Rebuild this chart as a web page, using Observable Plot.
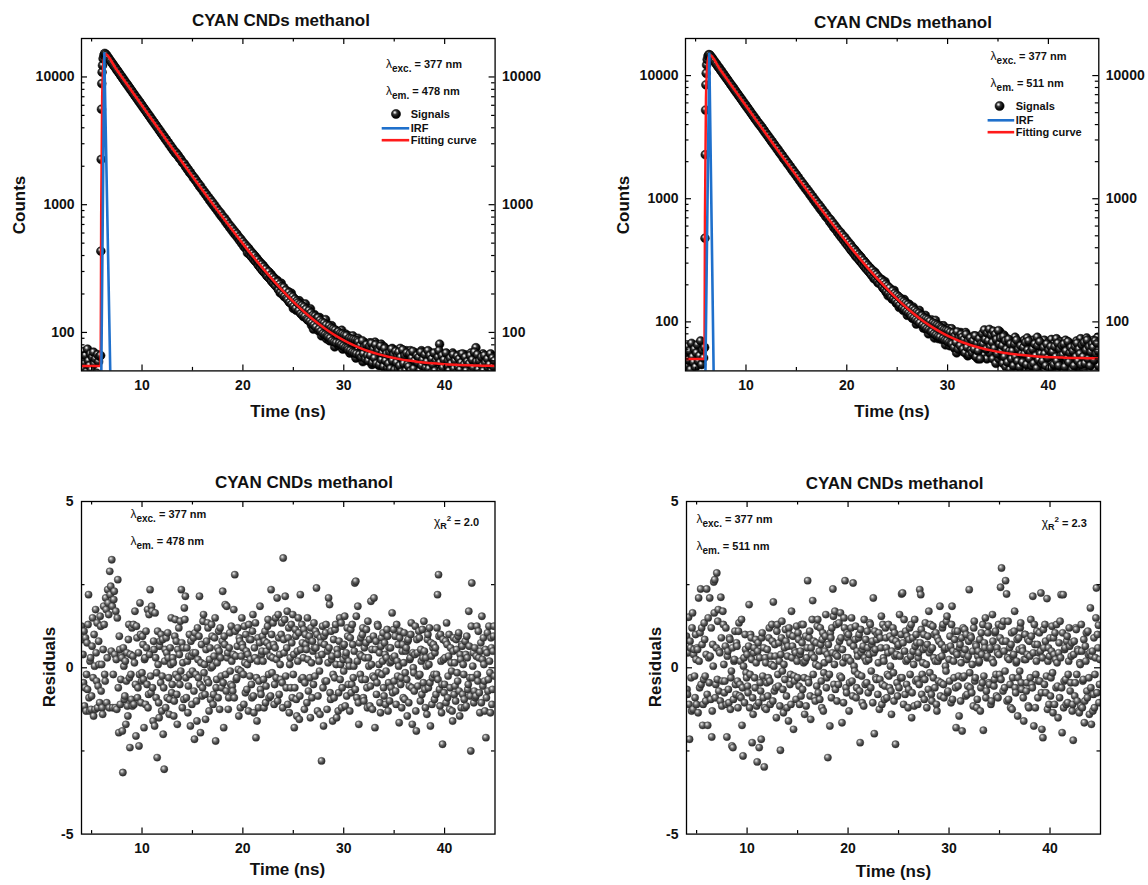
<!DOCTYPE html>
<html>
<head>
<meta charset="utf-8">
<script src="https://cdn.jsdelivr.net/npm/d3@7"></script>
<script src="https://cdn.jsdelivr.net/npm/@observablehq/plot@0.6"></script>
<style>
html,body{margin:0;padding:0;background:#fff;}
#wrap{position:relative;width:1148px;height:885px;overflow:hidden;background:#fff;}
#overlay{position:absolute;left:0;top:0;pointer-events:none;}
#overlay text{font-family:"Liberation Sans",Arial,sans-serif;fill:#111;}
.ttl{font-size:17px;font-weight:bold;text-anchor:middle;}
.ann{font-size:11px;font-weight:bold;}
</style>
</head>
<body>
<div id="wrap"></div>
<script>
// ---------------- DATA ----------------
const titleText = "CYAN CNDs methanol";
const xLabel = "Time (ns)";
const excText = "377 nm";
const emTextL = "478 nm";
const emTextR = "511 nm";
const chiTextL = "2.0";
const chiTextR = "2.3";

const channelNs = 0.1;          // spacing of the listed series (ns)
const timeDomain = [4, 45];
const xMajor = [10, 20, 30, 40];
const xMinor = [5, 15, 25, 35];
const countTicks = [100, 1000, 10000];
const countDomainL = [50, 20000];
const countDomainR = [40, 20000];
const resDomain = [-5, 5];
const resTicks = [-5, 0, 5];
const resMinor = [-2.5, 2.5];

// --- left decay (em 478 nm) ---
const baseStartL = 4.0;
const baseCountsL = [63,52,71,58,66,49,74,60,55,68,51,64,70,57,62,48,67,59,65,66];
const edgeTimesL = [5.92,5.95,5.98,6.01,6.04,6.08,6.14,6.22,6.30];
const edgeCountsL = [433,2260,5590,8870,10900,12300,13900,14800,15300];
const decayStartL = 6.4;
const decayCountsL = [
15080,14790,14300,14040,13550,13330,12890,12680,12250,12010,
11700,11330,11150,10780,10590,10200,10050,9690,9540,9190,
9050,8740,8620,8300,8180,7880,7770,7480,7380,7110,
7000,6760,6650,6410,6330,6090,6000,5780,5700,5490,
5420,5220,5150,4950,4890,4700,4640,4460,4410,4240,
4190,4030,3980,3820,3790,3630,3590,3450,3410,3270,
3240,3110,3080,2950,2930,2800,2780,2660,2640,2530,
2540,2440,2420,2310,2300,2230,2140,2120,2090,1990,
1980,1890,1880,1790,1790,1720,1690,1620,1620,1550,
1540,1470,1460,1390,1400,1330,1320,1260,1260,1200,
1200,1140,1140,1080,1090,1030,1040,980,990,935,
940,890,895,845,860,805,815,770,780,730,
745,695,705,660,675,630,645,600,615,575,
590,548,560,520,538,495,512,470,490,452,
470,430,448,408,430,390,412,372,395,358,
378,340,362,325,348,310,335,296,320,285,
305,272,295,262,285,250,272,240,262,230,
256,219,232,204,243,208,220,191,205,210,
186,209,173,190,203,167,154,183,172,149,
177,155,177,142,149,167,133,152,167,130,
126,146,127,153,114,131,106,138,119,129,
127,103,131,108,94,123,111,98,126,89,
98,114,86,104,113,88,104,77,104,89,
102,79,94,82,104,74,93,81,97,74,
79,94,69,88,79,94,68,83,63,86,
90,69,80,63,83,59,76,83,64,78,
62,76,83,62,56,79,66,84,62,70,
76,55,70,81,57,62,77,52,71,58,
62,73,53,69,75,55,49,66,72,57,
68,52,75,58,49,69,63,54,72,47,
52,64,72,49,67,57,46,69,62,53,
68,53,47,72,60,49,65,55,69,48,
62,70,50,57,65,45,62,51,67,53,
67,81,50,60,45,63,54,47,68,51,
62,46,65,52,69,48,56,44,61,64,
49,67,53,63,45,60,67,49,46,61,
64,50,69,45,57,52,63,76,43,58,
51,65,46,61,68,49,44,63,57,47,
64,52,67,48,59,45,61];
// half-channel samples of the tail (20.45 ns onward)
const tailStartL = 20.45;
const tailCountsL = [
420,455,410,430,392,414,376,398,360,380,
370,335,352,320,340,305,326,295,312,280,
275,298,265,280,252,270,242,260,232,250,
248,215,238,206,228,198,225,192,214,185,
180,205,172,195,166,190,160,182,154,176,
170,148,166,140,162,136,158,133,152,128,
125,148,122,142,118,136,114,134,110,130,
130,106,124,102,120,98,118,96,114,94,
92,112,90,108,86,106,84,104,83,100,
101,82,98,80,97,78,95,76,94,75,
73,90,72,89,70,88,69,87,68,86,
84,67,79,64,86,68,77,62,80,66,
60,78,66,82,58,74,63,80,57,73,
72,56,78,61,69,54,75,60,68,53,
57,70,52,74,60,67,51,71,58,66,
70,55,64,49,73,57,66,50,69,56,
54,68,50,63,71,52,60,47,66,58,
64,50,70,55,61,46,67,53,59,72,
52,66,48,62,56,69,50,60,45,64,
72,58,50,66,53,61,47,69,55,60,
50,63,57,45,67,52,60,48,65,54,
62,51,58,68,47,56,64,50,59,44,
57,66,49,61,53,70,46,59,67,51,
60,48,64,55,50,66,58,45,62,53,
56,68,50,63,54,60];
const fitTimesL = [4,5.9,5.95,6.05,6.2,6.35,7.4,8.4,9.4,10.4,11.4,12.4,13.4,14.4,15.4,16.4,17.4,18.4,19.4,20.4,21.4,22.4,23.4,24.4,25.4,26.4,27.4,28.4,29.4,30.4,31.4,32.4,33.4,34.4,35.4,36.4,37.4,38.4,39.4,40.4,41.4,42.4,43.4,44.4,45];
const fitCountsL = [54.5,54.5,800,7000,13500,15100,11662,9007,6960,5381,4162,3223,2498,1939,1508,1175,919,721,569,451,360,290,236,194.5,162.4,137.6,118.5,103.7,92.4,83.6,76.8,71.6,67.6,64.5,62.1,60.2,58.8,57.7,56.9,56.2,55.7,55.3,55.0,54.8,54.7];
const irfTimesL = [5.96,6.26,6.86];
const irfCountsL = [45,15300,45];

// --- right decay (em 511 nm) ---
const baseStartR = 4.0;
const baseCountsR = [55,44,63,49,58,41,67,52,47,60,43,56,65,48,53,70,45,59,51,62];
const edgeTimesR = [5.93,5.96,5.99,6.02,6.05,6.09,6.15,6.23,6.31];
const edgeCountsR = [478,2280,5250,8410,10440,12200,13500,14400,14800];
const decayStartR = 6.4;
const decayCountsR = [
14750,14420,13990,13700,13240,12990,12560,12320,11900,11680,
11380,11010,10800,10440,10240,9900,9720,9390,9210,8910,
8740,8430,8290,8010,7860,7580,7460,7190,7080,6820,
6720,6470,6370,6130,6040,5810,5730,5510,5440,5230,
5160,4960,4890,4700,4640,4450,4400,4230,4170,4010,
3990,3830,3790,3630,3600,3440,3410,3270,3240,3100,
3070,2940,2920,2790,2770,2650,2630,2510,2500,2380,
2370,2270,2250,2140,2140,2040,2030,1930,1930,1840,
1830,1740,1740,1650,1650,1570,1570,1490,1490,1410,
1410,1340,1345,1270,1280,1205,1215,1150,1160,1090,
1100,1035,1045,980,995,930,945,885,900,840,
860,800,815,760,775,720,740,690,700,650,
675,620,640,585,610,560,580,530,552,505,
530,480,505,458,485,435,462,415,440,395,
422,378,396,360,385,340,365,328,350,312,
335,300,318,285,306,272,292,262,280,250,
270,241,250,224,253,226,235,207,219,223,
202,220,188,201,212,174,188,163,188,170,
183,153,171,180,150,142,163,153,131,153,
133,147,124,152,129,143,113,132,139,115,
130,107,132,109,117,96,121,101,124,103,
96,113,89,106,113,87,98,80,103,89,
104,82,93,74,103,81,93,73,87,93,
72,87,93,71,65,87,74,88,64,80,
88,67,77,61,80,56,81,72,61,82,
63,80,57,72,82,57,53,74,68,57,
74,59,77,53,65,76,50,68,54,72,
69,79,54,82,64,50,75,84,56,71,
76,50,82,64,46,77,67,50,83,53,
70,46,78,59,43,73,51,65,41,61,
49,67,41,75,57,45,69,51,62,42,
64,46,71,41,58,74,48,42,62,67,
49,71,41,60,44,75,56,38,63,50,
65,45,71,40,57,37,68,53,43,72,
42,60,67,47,73,38,57,49,69,43,
63,39,55,71,44,61,36,67,48,59,
46,65,40,57,70,43,54,38,73,49,
60,42,67,47,74,37,58,63,45,69,
48,71,41,65,55,75,44];
const tailStartR = 20.45;
const tailCountsR = [
380,402,365,385,348,368,333,352,318,338,
330,296,316,282,302,270,288,258,276,248,
240,262,232,250,222,242,214,232,205,222,
218,192,210,184,202,176,195,170,188,163,
158,178,154,170,148,165,142,160,137,155,
150,130,146,126,142,121,138,118,133,114,
110,128,107,124,104,120,101,117,98,113,
112,94,108,91,106,88,104,86,101,84,
83,98,80,96,78,94,76,92,75,90,
88,73,86,71,85,70,84,68,82,67,
66,81,62,77,68,83,60,75,64,79,
75,60,72,56,79,62,70,54,74,59,
56,70,60,77,52,67,58,73,50,66,
80,66,86,72,60,81,70,87,63,78,
68,84,61,79,72,55,85,66,74,58,
64,76,52,70,60,47,72,58,66,50,
58,44,66,52,71,48,60,43,64,55,
47,62,55,68,45,59,70,50,57,44,
60,46,66,53,42,64,49,69,55,46,
48,62,55,44,66,51,59,42,63,56,
57,45,63,52,48,67,44,60,53,64,
54,66,43,58,50,69,47,56,62,41,
58,44,63,52,67,48,60,55,45,65,
52,68,46,59,71,50,63,44,57,66,
62,49,70,55,67,58];
const fitTimesR = [4,5.88,5.93,6.03,6.2,6.38,7.4,8.4,9.4,10.4,11.4,12.4,13.4,14.4,15.4,16.4,17.4,18.4,19.4,20.4,21.4,22.4,23.4,24.4,25.4,26.4,27.4,28.4,29.4,30.4,31.4,32.4,33.4,34.4,35.4,36.4,37.4,38.4,39.4,40.4,41.4,42.4,43.4,44.4,45];
const fitCountsR = [50,50,700,6500,13000,14750,11309,8673,6655,5108,3924,3017,2323,1791,1383,1071,832,649,509,401,319,256,208,171,142.6,120.9,104.3,91.6,81.9,74.4,68.7,64.3,61.0,58.4,56.4,54.9,53.8,52.9,52.2,51.7,51.3,51.0,50.8,50.6,50.5];
const irfTimesR = [5.97,6.36,6.80];
const irfCountsR = [35,15000,35];

// --- residuals (two interleaved half-channel sets each) ---
const resStartA = 4.0;
const resStartB = 4.05;
const residualsLA = [
1.25,0.85,-0.45,-1.15,0.9,-0.2,-0.65,2.2,-1.3,0.3,
-0.85,1.5,-1.45,0.05,1.75,-0.4,-1.2,0.8,-1.05,1.25,
0.1,-1.4,1.85,-0.2,2.1,-1.05,2.35,1.6,2.9,2.45,
3.25,-1.2,2.05,0.4,1.7,-1.25,2.65,-1.95,0.55,-0.35,
0.3,-3.15,0.05,-0.85,-1.7,0.45,-1.45,1.3,-2.4,-0.2,
1.2,0.35,-1.1,1.7,-2.05,0.9,-0.6,-2.35,1.95,-1.05,
-0.15,0.7,-1.8,0.3,1.1,-0.5,-1.2,1.6,2.35,-0.75,
1.7,-1.6,0.55,1.65,-0.9,-2.7,0.1,-1.5,0.8,1.0,
-0.25,-2.0,-3.05,0.55,0.9,-0.9,0.3,-1.4,0.6,1.5,
-0.5,0.15,-1.0,1.45,0.8,-1.7,-0.3,0.4,1.4,2.35,
-1.2,0.6,1.8,2.15,-0.9,0.2,-0.55,1.0,-1.75,0.35,
-0.1,0.9,-2.15,0.45,-1.0,1.2,-0.3,2.15,-1.95,0.7,
-0.6,1.6,0.1,-1.55,0.8,1.35,-0.45,0.25,-0.95,1.3,
0.05,-0.8,0.9,-2.2,-0.35,0.6,1.1,-1.25,0.3,-0.6,
2.3,-1.8,0.7,-0.2,1.85,0.45,-0.9,1.05,-0.5,0.2,
-0.7,1.75,2.8,0.35,-0.3,1.2,-1.45,0.8,-0.1,1.5,
0.6,-1.1,0.15,1.0,-0.65,0.4,1.3,-0.25,0.85,-0.9,
1.6,-1.35,0.3,-2.1,-1.6,0.9,-0.4,1.85,-0.8,0.5,
0.2,-1.2,1.1,-0.55,0.75,1.45,-0.9,0.35,2.35,-0.15,
1.35,-1.1,0.6,-0.3,2.1,1.6,-0.8,0.1,1.0,-0.45,
3.3,0.45,2.15,-0.6,1.7,0.9,-1.35,0.3,1.3,-0.9,
-0.2,-1.8,1.15,-0.95,0.5,1.5,-1.55,2.2,-0.35,0.75,
0.3,-1.25,1.0,0.55,1.5,-0.7,0.95,-1.5,0.15,0.8,
-0.5,0.6,1.1,2.4,-1.3,0.35,-0.1,0.9,-2.8,1.25,
-1.75,0.7,1.05,-0.4,0.5,2.1,1.9,-0.95,0.25,-1.6,
0.85,-0.3,1.3,-1.5,0.4,-0.75,1.5,0.1,-1.2,0.65,
-0.1,1.55,0.35,-0.85,0.95,0.2,-1.3,1.15,-0.5,0.7,
0.05,2.55,2.6,-0.9,1.85,-1.7,0.4,0.9,-0.35,1.2,
-1.0,0.3,0.75,-0.6,1.4,0.05,-1.15,2.0,0.55,-0.25,
2.1,-1.8,0.8,-0.45,1.25,0.1,-1.05,0.65,-0.2,1.05,
-0.85,0.4,-0.1,1.15,-1.3,0.6,0.15,-0.6,1.65,0.3,
-0.4,0.95,-1.1,0.2,0.7,-1.65,1.1,-0.3,0.5,-0.9,
1.05,-0.15,0.6,-1.45,0.85,-0.55,0.3,1.35,-1.7,0.0,
-0.7,1.25,-1.9,0.45,-0.25,0.9,-1.0,0.2,1.15,-0.45,
0.5,-1.2,0.05,0.85,-0.6,1.2,-1.75,0.35,-0.3,0.7,
-0.95,0.6,-0.2,2.2,2.8,-0.65,1.0,-1.35,-2.3,0.25,
-0.5,0.8,1.35,-0.9,0.35,-1.25,0.6,-0.1,-1.6,0.9,
0.15,-1.0,0.55,-0.4,1.05,-1.45,0.25,0.7,-0.8,-0.2,
-1.2,0.4,0.95,-0.65,1.7,-0.3,-2.5,2.55,0.05,-1.05,
0.6,-0.85,1.25,-0.4,0.3,-1.35,0.75,1.55,-0.55,0.1,
-1.3,-2.1,0.45,-0.7,1.25,-0.15,0.9,-1.1,0.5,1.25];
const residualsLB = [
-1.2,0.4,1.1,-0.6,-1.3,0.75,1.3,-0.9,0.2,-1.25,
0.65,-0.3,1.0,-1.25,0.45,1.35,-0.55,0.1,1.55,-0.7,
-1.2,0.55,1.3,-0.4,1.75,0.3,1.95,-1.2,2.2,0.5,
1.85,-0.2,2.3,-1.2,0.25,1.5,-0.6,0.95,-1.1,0.35,
-1.9,0.6,-0.95,0.2,-0.4,-1.15,0.85,-0.3,0.4,-0.95,
-1.15,1.3,0.15,-0.5,1.25,-0.9,0.45,-0.2,1.0,-0.4,
0.95,-0.35,0.25,-1.1,0.6,1.75,-0.8,0.4,-0.25,1.85,
-0.6,0.8,-1.75,0.3,-0.15,1.1,-1.05,0.65,-0.45,-1.3,
0.85,-0.6,0.2,-1.2,0.45,1.05,-0.3,-0.95,0.1,-0.75,
0.3,-1.45,0.95,-0.2,-0.8,0.55,1.2,-0.5,-0.1,0.75,
0.15,-0.95,1.45,-0.3,0.6,-1.35,0.35,-0.2,0.8,-1.1,
0.45,-0.7,1.05,-0.2,-1.6,0.25,0.95,-0.5,0.15,-0.85,
1.4,-0.15,-0.8,0.55,-0.35,1.2,-1.3,0.6,0.0,0.95,
-1.1,0.35,1.5,-0.6,0.15,-0.9,0.5,1.2,-0.25,0.8,
-0.45,0.95,1.9,-0.7,0.3,-1.25,0.6,-0.1,1.25,-0.55,
0.4,-0.9,1.1,-0.35,0.65,-0.05,0.9,-1.2,0.35,0.7,
-0.2,1.25,-0.75,0.5,0.1,-1.3,0.85,0.25,-0.5,1.1,
-0.85,0.6,1.35,-0.3,0.2,-1.2,0.75,-0.65,0.4,0.95,
-0.35,0.8,-1.05,0.5,1.25,-0.2,0.65,-0.85,1.0,0.3,
0.7,-0.5,1.5,0.25,-1.0,0.9,0.4,-0.35,1.35,-1.2,
0.85,1.45,-0.25,0.6,-1.1,1.2,0.1,-0.6,0.75,1.6,
0.4,-0.6,0.95,-1.45,0.2,1.05,-0.85,0.55,1.3,-0.3,
1.15,-0.45,0.7,-1.05,0.25,0.85,-0.3,1.2,-0.9,0.5,
1.35,-0.25,0.6,1.0,-0.85,0.2,-1.4,0.75,0.4,-0.6,
0.95,-0.4,1.3,-1.25,0.15,0.6,-0.75,1.1,0.35,-0.2,
-0.9,1.15,0.1,0.55,-1.3,0.8,-0.35,1.35,-0.6,0.25,
0.7,-1.15,0.45,1.2,-0.5,0.05,0.9,-0.75,1.3,-0.3,
0.5,-0.65,1.55,0.2,-1.05,0.75,-0.2,0.35,1.0,-0.9,
0.6,-0.35,1.15,-1.2,0.3,0.85,-0.55,0.1,-1.25,0.95,
-0.3,0.55,-0.8,1.3,-0.15,0.45,-1.35,0.9,0.2,-0.6,
0.75,-1.1,0.3,0.95,-0.45,-1.0,0.6,0.2,-0.75,1.15,
0.35,-0.7,1.3,-0.25,0.05,0.9,-0.5,-1.2,0.7,0.15,
-0.95,0.5,-0.35,0.8,-1.05,0.25,1.0,-0.6,0.45,-0.15,
0.4,-1.3,0.85,-0.55,1.1,-0.2,0.55,-0.8,0.3,1.4,
-0.65,0.3,-1.4,1.0,0.1,-0.45,0.75,-1.1,0.6,-0.2,
0.45,-0.8,1.2,-0.35,0.95,-1.15,0.2,-0.5,0.85,-0.75,
0.3,-1.05,0.7,-0.25,1.0,-0.6,0.15,-1.3,0.5,-0.8,
-0.55,0.85,-0.15,0.95,-0.7,0.4,-1.2,0.65,0.1,-0.95,
0.8,-1.15,0.3,-0.5,0.65,-0.85,1.25,-0.3,0.45,-0.7,
-0.9,0.35,-0.2,1.1,-0.75,0.5,-1.05,0.25,0.9,-0.4,
0.55,-0.9,1.05,-0.35,0.2,-1.35,0.6,-0.65,0.95,-0.25];
const residualsRA = [
0.95,-0.8,1.52,-2.15,0.6,-1.3,1.65,0.4,-0.25,1.0,
-1.1,0.55,2.1,-0.6,2.37,1.2,-1.73,-0.35,0.85,-1.0,
2.37,-1.73,0.3,2.1,-0.95,-2.08,0.7,2.58,2.65,-0.5,
2.85,1.4,-0.7,0.45,2.12,-1.15,1.7,0.1,-0.4,1.2,
-2.08,0.5,-1.05,0.85,-0.3,-2.35,-2.4,0.2,1.1,-0.8,
0.65,-1.2,1.35,-0.5,-0.9,-1.73,-2.65,0.3,1.0,-0.15,
0.4,-0.75,1.9,-0.2,0.9,-2.25,-1.4,0.6,-0.6,0.15,
-2.83,0.75,-2.4,-0.45,-2.15,1.05,-0.9,-2.98,0.3,-1.25,
0.55,-0.3,1.2,-1.1,0.1,0.8,1.98,-0.7,0.35,-1.5,
1.3,-0.55,0.2,-2.48,0.9,-0.1,-1.35,0.6,1.15,-0.85,
0.35,-1.6,1.0,-0.2,1.7,0.65,-1.85,-0.4,0.45,1.25,
-0.3,0.85,-1.1,0.5,1.3,-0.65,0.15,-1.4,0.95,0.3,
2.62,-0.45,1.1,-1.55,0.4,2.02,0.8,-0.9,0.1,-0.55,
1.45,0.05,-0.95,0.7,-1.2,1.05,-0.15,0.5,1.6,-0.3,
-2.7,0.25,-1.75,0.9,1.2,2.37,-0.5,1.7,0.4,-1.0,
0.6,1.35,-0.25,0.9,-1.65,0.15,1.5,2.62,-0.6,1.05,
0.3,-1.3,0.75,1.2,-0.4,2.55,0.05,0.85,-0.9,0.5,
-0.2,1.0,-2.25,0.45,-1.05,0.65,1.45,-0.5,0.2,1.1,
-0.75,0.4,1.3,-0.1,0.8,2.1,-1.98,0.55,-0.35,1.0,
0.15,-1.25,0.9,1.55,-0.5,0.3,-0.95,1.2,0.6,-0.2,
1.3,-0.6,0.05,-1.4,0.85,-0.15,1.05,-2.3,0.4,-0.85,
0.7,1.6,-0.3,2.22,2.25,-1.1,0.5,1.1,-0.5,0.25,
-0.65,1.2,0.35,-1.5,0.9,0.1,1.45,-0.4,0.75,-1.1,
0.45,2.35,2.2,-0.8,0.15,1.0,-0.35,0.6,-1.2,0.95,
1.7,-0.15,0.55,-1.0,1.25,0.3,-0.6,1.05,-1.3,0.2,
0.8,1.85,-0.45,0.35,1.3,-0.9,0.6,-0.1,1.55,-0.7,
0.25,0.95,-1.05,1.85,0.5,-0.3,1.1,-1.8,0.4,-0.55,
-1.45,0.7,0.15,-1.9,1.2,-0.25,0.55,1.0,-0.8,0.35,
2.35,-0.6,0.9,0.1,-1.15,1.4,-0.3,0.65,-0.95,0.5,
0.2,-1.3,1.05,-0.45,-1.88,0.75,1.5,-0.7,0.35,1.25,
-0.5,0.6,-1.0,1.6,0.15,-0.35,1.1,-0.85,0.45,1.3,
-0.2,2.42,3.0,0.8,1.4,-0.6,2.62,2.22,0.3,-0.95,
0.6,-1.2,1.05,-0.3,0.4,1.7,-0.75,0.2,-1.45,0.9,
-0.1,1.35,-0.65,0.5,-1.6,1.0,0.25,-0.45,0.85,-1.2,
0.35,1.45,-0.5,2.15,-1.75,0.7,-0.2,1.1,-0.9,0.45,
-0.4,2.25,-1.85,-2.1,0.6,1.3,-0.75,2.08,0.2,-1.1,
0.9,-0.3,1.25,-1.35,0.4,1.05,-0.6,0.15,-1.5,0.75,
1.4,2.2,-1.95,2.2,-0.4,0.6,-1.1,0.95,-0.2,1.2,
-0.7,0.35,-1.3,-2.18,0.8,-0.45,1.15,-1.0,0.5,-1.35,
0.1,1.3,-1.2,-0.35,-1.65,0.65,1.05,-0.9,0.4,-1.4,
1.8,-1.7,0.5,-0.8,-1.2,0.3,2.4,1.0,1.28,-0.5];
const residualsRB = [
-0.65,0.45,-1.1,0.8,-0.3,1.2,-1.25,0.55,-0.9,0.25,
0.6,-1.35,0.2,1.05,-0.5,0.7,-1.1,1.35,-0.25,0.4,
-0.8,1.5,-0.45,0.35,1.2,-1.3,0.05,1.65,-0.9,0.6,
-0.35,1.75,0.5,-1.0,0.9,-0.4,1.3,-0.75,0.65,-1.1,
0.35,-0.65,0.9,-1.25,-0.1,0.6,-0.95,0.25,-0.5,0.75,
-0.4,1.1,-0.85,0.2,1.45,-0.6,0.05,-1.05,0.55,-0.3,
-0.55,0.65,-1.2,1.0,0.25,-0.9,0.45,-0.3,0.85,-1.15,
0.5,-1.05,0.3,-0.7,0.9,-0.25,0.6,-1.2,0.15,-0.45,
-0.85,0.9,-0.4,0.35,1.3,-1.0,0.05,0.7,-0.6,1.1,
-0.2,0.75,-1.15,0.4,1.4,-0.65,0.1,-0.35,0.8,-1.2,
0.65,1.2,-0.5,-1.1,0.3,0.95,-0.25,0.5,-0.95,0.2,
1.05,-0.55,0.4,-0.85,0.75,1.3,-0.3,0.2,-1.15,0.6,
-0.35,0.9,-0.85,0.6,1.45,-0.2,0.3,-1.0,0.75,1.25,
-0.75,0.5,1.2,-0.4,0.85,-1.3,0.15,0.95,-0.6,0.4,
0.7,-0.2,1.05,-0.9,0.45,1.55,0.1,-0.65,1.3,0.35,
-0.5,0.8,1.65,-0.3,0.55,-1.05,1.2,0.3,-0.75,0.9,
1.0,-0.45,0.2,1.5,-0.85,0.65,-0.1,1.25,-0.6,0.35,
0.9,-0.7,1.15,-0.25,0.55,-1.15,0.3,0.85,-0.45,0.6,
0.25,1.35,-0.6,0.7,-1.05,0.45,1.1,-0.3,0.85,-0.8,
1.05,-0.35,0.6,-1.1,1.3,0.2,-0.55,0.9,-0.9,0.45,
-0.25,0.95,-0.7,0.5,1.2,-1.0,0.35,0.8,-0.45,0.65,
-0.6,0.35,1.0,-0.3,0.75,1.45,-0.8,0.2,0.95,-1.2,
0.85,-0.2,1.3,-0.75,0.5,-1.15,0.65,1.0,-0.35,0.3,
-0.5,0.75,1.15,-0.2,0.55,-0.95,1.35,0.1,0.7,-0.65,
0.45,1.3,-0.8,0.6,-0.3,1.0,0.2,-1.1,0.9,-0.4,
0.3,-0.85,0.7,1.2,-0.5,0.55,0.05,1.4,-0.75,0.6,
-0.4,0.65,1.3,-0.95,0.2,0.85,-0.6,0.45,1.1,-0.25,
0.6,-1.0,0.9,-0.3,0.4,1.15,-0.85,0.25,-0.55,0.8,
-0.15,0.95,-0.75,0.5,1.2,-0.4,0.7,-1.2,0.35,0.15,
0.85,-0.6,0.4,1.3,-0.25,0.6,-0.9,0.3,1.05,-0.45,
0.55,-1.1,0.25,0.8,-0.55,1.05,-0.2,0.6,-0.9,0.4,
0.9,-0.35,1.25,-0.7,0.5,-0.1,0.8,-1.0,1.4,0.25,
-0.5,0.7,-1.25,0.35,1.1,-0.6,0.15,0.85,-0.3,0.55,
1.2,-0.45,0.6,-0.9,0.25,1.0,-0.7,0.4,-1.15,0.8,
-0.3,0.95,-0.6,0.45,1.3,-1.2,0.2,0.7,-0.4,1.05,
0.5,-0.75,0.3,1.15,-0.5,0.8,-0.25,-1.25,0.6,0.35,
-0.85,0.5,-0.15,0.9,-1.1,0.25,1.3,-0.55,0.45,-0.9,
0.3,-0.6,1.05,-1.2,0.55,-0.35,0.8,-1.05,0.2,0.65,
-0.45,0.75,-1.1,0.4,-0.85,1.2,-0.2,0.55,-1.3,0.15,
-1.15,0.5,-0.4,0.85,-1.0,0.2,-0.7,1.1,-0.3,0.45,
-0.6,0.35,-1.3,0.9,-0.2,1.5,-0.75,0.6,-1.05,0.25];

// ---------------- BUILD ----------------
const series = (start, vals) => vals.map((v, i) => ({t: Math.round((start + i * channelNs) * 1000) / 1000, v}));
const pairs = (ts, vals) => ts.map((t, i) => ({t, v: vals[i]}));

const signalsL = [...series(baseStartL, baseCountsL), ...pairs(edgeTimesL, edgeCountsL), ...series(decayStartL, decayCountsL), ...series(tailStartL, tailCountsL)];
const signalsR = [...series(baseStartR, baseCountsR), ...pairs(edgeTimesR, edgeCountsR), ...series(decayStartR, decayCountsR), ...series(tailStartR, tailCountsR)];
const fitL = pairs(fitTimesL, fitCountsL), fitR = pairs(fitTimesR, fitCountsR);
const irfL = pairs(irfTimesL, irfCountsL), irfR = pairs(irfTimesR, irfCountsR);
const resL = [...series(resStartA, residualsLA), ...series(resStartB, residualsLB)].sort((a, b) => a.t - b.t);
const resR = [...series(resStartA, residualsRA), ...series(resStartB, residualsRB)].sort((a, b) => a.t - b.t);

const logMinor = (dom) => {
  const out = [];
  for (let p = 1; p <= 4; p++) for (let m = 2; m <= 9; m++) { const v = m * 10 ** p; if (v > dom[0] && v < dom[1]) out.push(v); }
  return out;
};

const wrap = document.getElementById("wrap");
wrap.insertAdjacentHTML("beforeend", `<svg width="0" height="0" style="position:absolute;left:0;top:0"><defs>
<radialGradient id="ballBlack" cx="0.42" cy="0.40" r="0.62" fx="0.36" fy="0.32">
<stop offset="0" stop-color="#ffffff"/><stop offset="0.13" stop-color="#c8c8c8"/><stop offset="0.36" stop-color="#383838"/><stop offset="0.7" stop-color="#0a0a0a"/><stop offset="1" stop-color="#000"/></radialGradient>
<radialGradient id="ballGrey" cx="0.42" cy="0.40" r="0.62" fx="0.36" fy="0.32">
<stop offset="0" stop-color="#f4f4f4"/><stop offset="0.2" stop-color="#b4b4b4"/><stop offset="0.5" stop-color="#626262"/><stop offset="0.8" stop-color="#3a3a3a"/><stop offset="1" stop-color="#2a2a2a"/></radialGradient>
</defs></svg>`);

const M = {l: 80, r: 80, t: 38, b: 52};
const FONT = '"Liberation Sans", Arial, sans-serif';
const fmt = d => String(d);

function tickMarks(W, H, xMaj, xMin, yMaj, yMin) {
  const o = {stroke: "#000", strokeWidth: 1.2};
  return [
    Plot.tickX(xMaj, {x: d => d, insetTop: H - 6, ...o}),
    Plot.tickX(xMaj, {x: d => d, insetBottom: H - 6, ...o}),
    Plot.tickX(xMin, {x: d => d, insetTop: H - 3.5, ...o}),
    Plot.tickX(xMin, {x: d => d, insetBottom: H - 3.5, ...o}),
    Plot.tickY(yMaj, {y: d => d, insetRight: W - 6, ...o}),
    Plot.tickY(yMaj, {y: d => d, insetLeft: W - 6, ...o}),
    Plot.tickY(yMin, {y: d => d, insetRight: W - 3.5, ...o}),
    Plot.tickY(yMin, {y: d => d, insetLeft: W - 3.5, ...o})
  ];
}

function place(svg, f) {
  svg.style.position = "absolute";
  svg.style.left = (f.x0 - M.l) + "px";
  svg.style.top = (f.y0 - M.t) + "px";
  wrap.appendChild(svg);
}

function decayPanel(f, yDomain, signals, fit, irf) {
  const W = f.x1 - f.x0, H = f.y1 - f.y0;
  const svg = Plot.plot({
    width: W + M.l + M.r, height: H + M.t + M.b,
    marginLeft: M.l, marginRight: M.r, marginTop: M.t, marginBottom: M.b,
    x: {domain: timeDomain, axis: null},
    y: {type: "log", domain: yDomain, axis: null},
    style: {fontFamily: FONT, fontSize: "14px", fontWeight: "bold", color: "#111", background: "transparent", overflow: "visible"},
    marks: [
      Plot.dot(signals, {x: "t", y: "v", r: 4.4, fill: "url(#ballBlack)", stroke: "#000", strokeWidth: 0.5, clip: true}),
      Plot.line(fit, {x: "t", y: "v", stroke: "#ff1a1a", strokeWidth: 2.5, curve: "monotone-x", clip: true}),
      Plot.line(irf, {x: "t", y: "v", stroke: "#1f70cc", strokeWidth: 2.6, clip: true}),
      ...tickMarks(W, H, xMajor, xMinor, countTicks, logMinor(yDomain)),
      Plot.axisX({anchor: "bottom", ticks: xMajor, tickSize: 0, tickPadding: 9, label: null, tickFormat: fmt}),
      Plot.axisY({anchor: "left", ticks: countTicks, tickSize: 0, tickPadding: 7, label: null, tickFormat: fmt}),
      Plot.axisY({anchor: "right", ticks: countTicks, tickSize: 0, tickPadding: 7, label: null, tickFormat: fmt}),
      Plot.frame({stroke: "#000", strokeWidth: 1.3})
    ]
  });
  place(svg, f);
}

function residualPanel(f, res) {
  const W = f.x1 - f.x0, H = f.y1 - f.y0;
  const svg = Plot.plot({
    width: W + M.l + M.r, height: H + M.t + M.b,
    marginLeft: M.l, marginRight: M.r, marginTop: M.t, marginBottom: M.b,
    x: {domain: timeDomain, axis: null},
    y: {domain: resDomain, axis: null},
    style: {fontFamily: FONT, fontSize: "14px", fontWeight: "bold", color: "#111", background: "transparent", overflow: "visible"},
    marks: [
      Plot.dot(res, {x: "t", y: "v", r: 3.7, fill: "url(#ballGrey)", stroke: "#2a2a2a", strokeWidth: 0.3, clip: true}),
      ...tickMarks(W, H, xMajor, xMinor, [0], resMinor),
      Plot.axisX({anchor: "bottom", ticks: xMajor, tickSize: 0, tickPadding: 9, label: null, tickFormat: fmt}),
      Plot.axisY({anchor: "left", ticks: resTicks, tickSize: 0, tickPadding: 8, label: null, tickFormat: fmt}),
      Plot.frame({stroke: "#000", strokeWidth: 1.3})
    ]
  });
  place(svg, f);
}

const fTL = {x0: 80.7, x1: 494.3, y0: 38.3, y1: 370.7};
const fTR = {x0: 685, x1: 1098.3, y0: 38.3, y1: 370.7};
const fBL = {x0: 81, x1: 494.5, y0: 500.7, y1: 833.3};
const fBR = {x0: 686, x1: 1100, y0: 500.7, y1: 833.3};

decayPanel(fTL, countDomainL, signalsL, fitL, irfL);
decayPanel(fTR, countDomainR, signalsR, fitR, irfR);
residualPanel(fBL, resL);
residualPanel(fBR, resR);

// ---------------- TEXT OVERLAY ----------------
const lam = (x, y, sub, rest) =>
  `<text class="ann" x="${x}" y="${y}"><tspan font-weight="normal" font-size="12">λ</tspan><tspan dy="4" font-size="10">${sub}</tspan><tspan dy="-4"> = ${rest}</tspan></text>`;
const chi = (x, y, val) =>
  `<text class="ann" x="${x}" y="${y}"><tspan font-weight="normal" font-size="12">χ</tspan><tspan dy="3.5" font-size="9">R</tspan><tspan dy="-8" font-size="8">2</tspan><tspan dy="4.5"> = ${val}</tspan></text>`;
const legend = (lx, sy, sx, tx) => `
<circle cx="${sx}" cy="${sy - 3.5}" r="4.6" fill="url(#ballBlack)" stroke="#000" stroke-width="0.5"/>
<text class="ann" x="${tx}" y="${sy}">Signals</text>
<line x1="${lx}" x2="${tx - 1.5}" y1="${sy + 10.8}" y2="${sy + 10.8}" stroke="#1f70cc" stroke-width="2.6"/>
<text class="ann" x="${tx}" y="${sy + 14.4}">IRF</text>
<line x1="${lx}" x2="${tx - 1.5}" y1="${sy + 22.7}" y2="${sy + 22.7}" stroke="#ff1a1a" stroke-width="2.6"/>
<text class="ann" x="${tx}" y="${sy + 26.7}">Fitting curve</text>`;
const vlabel = (x, y, s) => `<text class="ttl" transform="translate(${x},${y}) rotate(-90)">${s}</text>`;

const overlay = `<svg id="overlay" width="1148" height="885">
<text class="ttl" x="281" y="26">${titleText}</text>
<text class="ttl" x="903" y="28">${titleText}</text>
<text class="ttl" x="304" y="487.5">${titleText}</text>
<text class="ttl" x="894.6" y="489">${titleText}</text>
<text class="ttl" x="288" y="417">${xLabel}</text>
<text class="ttl" x="892" y="417">${xLabel}</text>
<text class="ttl" x="287.5" y="874.6">${xLabel}</text>
<text class="ttl" x="893.5" y="877">${xLabel}</text>
${vlabel(24.5, 205, "Counts")}
${vlabel(628.5, 205, "Counts")}
${vlabel(55, 667, "Residuals")}
${vlabel(661, 667, "Residuals")}
${lam(386, 68.3, "exc.", excText)}
${lam(386, 95, "em.", emTextL)}
${legend(381.7, 117.5, 396, 410.7)}
${lam(990.6, 60, "exc.", excText)}
${lam(990.6, 87.3, "em.", emTextR)}
${legend(987.6, 109.5, 999.6, 1015.7)}
${lam(130.4, 518.2, "exc.", excText)}
${lam(130.4, 544.8, "em.", emTextL)}
${chi(434, 525.5, chiTextL)}
${lam(696.5, 523.3, "exc.", excText)}
${lam(696.5, 550, "em.", emTextR)}
${chi(1041.7, 526.7, chiTextR)}
</svg>`;
wrap.insertAdjacentHTML("beforeend", overlay);
</script>
</body>
</html>
